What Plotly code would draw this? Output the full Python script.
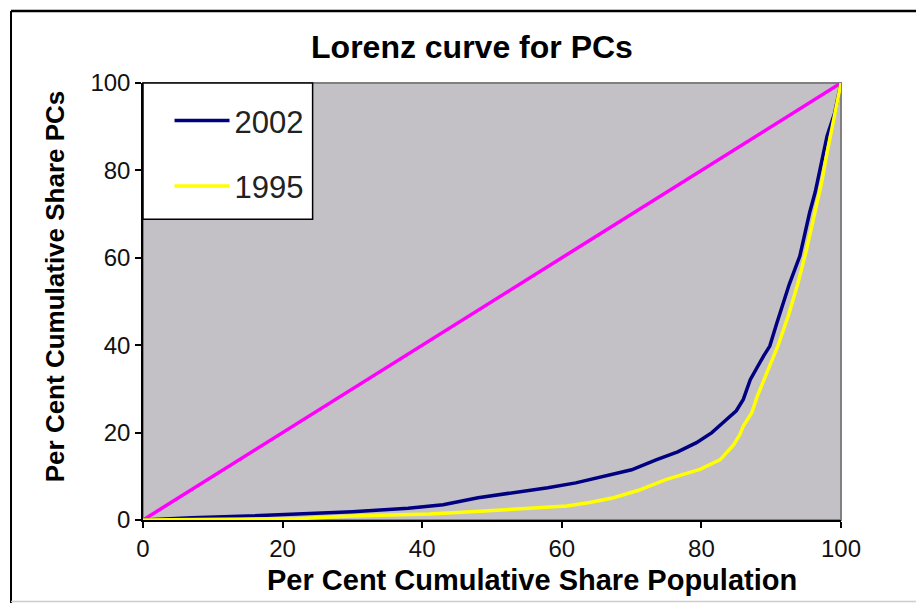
import plotly.graph_objects as go

# ---- data ----
x_2002 = [0, 3, 7, 15, 22, 30, 38, 43, 48, 53, 58, 62, 67.4, 70, 73.6, 76.6, 79.3, 81.5,
          83.6, 85.0, 86.0, 87.0, 88.9, 89.8, 90.8, 92.6, 94.1, 95.5, 96.3, 97.1, 98.0, 99.1, 100]
y_2002 = [0, 0.3, 0.5, 0.9, 1.3, 1.9, 2.7, 3.5, 5.1, 6.2, 7.4, 8.5, 10.4, 11.5, 13.8, 15.6, 17.7, 20.0,
          23.0, 25.0, 27.6, 32.1, 37.5, 39.8, 45.0, 54.0, 60.4, 70.3, 75.0, 81.0, 87.8, 93.2, 100]

x_1995 = [0, 12, 22, 30, 41, 48.3, 54, 60.7, 64, 67.4, 71, 75.0, 79.8, 82.7, 84.6, 85.5, 86.0,
          87.2, 88.0, 89.5, 91.0, 92.5, 93.8, 95.0, 96.2, 97.2, 98.0, 98.9, 100]
y_1995 = [0, 0.1, 0.3, 0.9, 1.4, 2.0, 2.6, 3.2, 4.0, 5.1, 6.8, 9.3, 11.6, 13.8, 17.2, 19.5, 21.5,
          24.5, 28.3, 34.0, 40.0, 47.0, 54.0, 61.5, 69.5, 77.0, 84.0, 91.5, 100]

x_equal = [0, 100]
y_equal = [0, 100]

tick_vals = [0, 20, 40, 60, 80, 100]
tick_text = ["0", "20", "40", "60", "80", "100"]

title_text = "Lorenz curve for PCs"
x_title = "Per Cent Cumulative Share Population"
y_title = "Per Cent Cumulative Share PCs"

FONT = "Liberation Sans, Arial, sans-serif"

# the page body adds an 8px margin, so the figure is 8px smaller each way
W, H = 916, 595

fig = go.Figure()
fig.add_trace(go.Scatter(x=x_equal, y=y_equal, mode="lines", showlegend=False,
                         line=dict(color="#FF00FF", width=3.5)))
fig.add_trace(go.Scatter(x=x_2002, y=y_2002, mode="lines", name="2002", legendgroup="a",
                         line=dict(color="#000080", width=3.5)))
fig.add_trace(go.Scatter(x=x_1995, y=y_1995, mode="lines", name="1995", legendgroup="b",
                         line=dict(color="#FFFF00", width=3.5)))

axis_common = dict(range=[0, 100], tickmode="array", tickvals=tick_vals, ticktext=tick_text,
                   showgrid=False, zeroline=False, showline=True, linecolor="black",
                   linewidth=1.5, ticks="outside", ticklen=6, tickwidth=1.5, tickcolor="black",
                   tickfont=dict(family=FONT, size=24, color="#111111"), fixedrange=True)

fig.update_layout(
    width=W, height=H,
    margin=dict(l=135, r=83, t=75, b=83),
    paper_bgcolor="white",
    plot_bgcolor="#C3C1C6",
    xaxis=dict(**axis_common, layer="above traces"),
    yaxis=dict(**axis_common, layer="above traces"),
    title=dict(text=f"<b>{title_text}</b>", x=0.4713, xref="paper", xanchor="center",
               y=1 - 39 / H, yref="container", yanchor="middle",
               font=dict(family=FONT, size=32, color="black")),
    showlegend=True,
    legend=dict(x=0.038, y=0.975, xanchor="left", yanchor="top", bgcolor="rgba(0,0,0,0)",
                borderwidth=0, font=dict(family=FONT, size=31, color="#222222"),
                itemwidth=55, tracegroupgap=22, traceorder="grouped"),
    annotations=[
        dict(text=f"<b>{x_title}</b>", xref="paper", yref="paper", x=0.558, y=-0.137,
             xanchor="center", yanchor="middle", showarrow=False,
             font=dict(family=FONT, size=29, color="black")),
        dict(text=f"<b>{y_title}</b>", xref="paper", yref="paper", x=-0.126, y=0.535,
             xanchor="center", yanchor="middle", showarrow=False, textangle=-90,
             font=dict(family=FONT, size=26, color="black")),
    ],
    shapes=[
        # plot-area gray border (top/right)
        dict(type="rect", xref="paper", yref="paper", x0=0, x1=1, y0=0, y1=1,
             line=dict(color="#808080", width=2), layer="below"),
        # legend box
        dict(type="rect", xref="paper", yref="paper", x0=0, x1=0.243, y0=0.688, y1=1.0,
             fillcolor="white", line=dict(color="black", width=1.5), layer="above"),
        # outer chart frame
        dict(type="line", xref="paper", yref="paper", x0=-0.1891, x1=1.13, y0=1.165, y1=1.165,
             line=dict(color="black", width=2.5)),
        dict(type="line", xref="paper", yref="paper", x0=-0.1891, x1=-0.1891, y0=1.165, y1=-0.19,
             line=dict(color="black", width=2)),
        dict(type="line", xref="paper", yref="paper", x0=-0.1891, x1=1.13, y0=-0.1865, y1=-0.1865,
             line=dict(color="#CCCCCC", width=1.5)),
    ],
)

fig.write_html("out.html")
